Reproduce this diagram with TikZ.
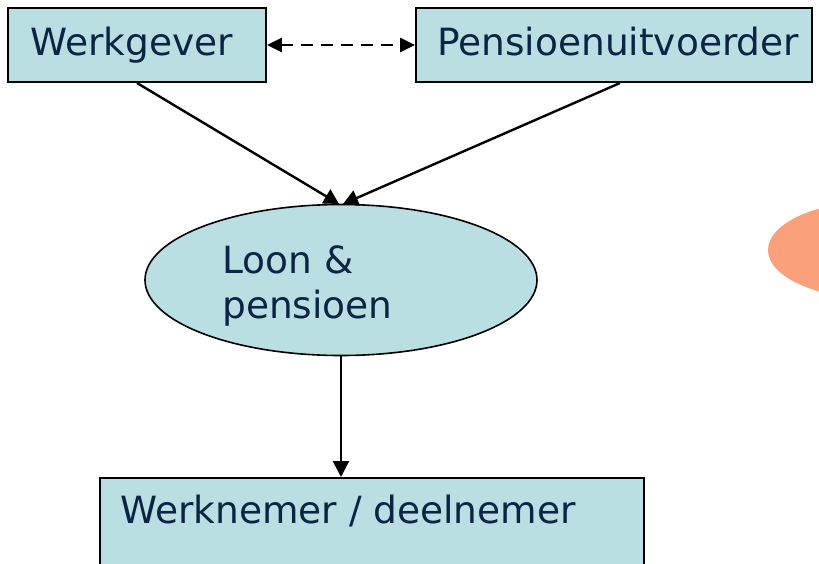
\documentclass[tikz,border=0pt]{standalone}
\usepackage{fontspec}
\setmainfont{DejaVu Sans}
\usetikzlibrary{shapes.geometric,arrows.meta}
\definecolor{boxfill}{RGB}{185,223,226}
\definecolor{txtcol}{RGB}{10,36,70}
\definecolor{blob}{RGB}{250,160,122}
\tikzset{
  box/.style={draw=black, line width=1.8pt, fill=boxfill, rectangle, inner sep=0pt},
  oval/.style={draw=black, line width=1.6pt, fill=boxfill, ellipse, inner sep=0pt},
  lbl/.style={text=txtcol, font=\fontsize{37.5}{45}\selectfont, inner sep=0pt},
  conn/.style={draw=black, line width=2.4pt, -{Triangle[length=16pt,width=16pt]}},
  dconn/.style={draw=black, line width=2.4pt, dash pattern=on 12pt off 8pt, {Triangle[length=15pt,width=14pt]}-{Triangle[length=15pt,width=14pt]}}
}
\begin{document}
\begin{tikzpicture}[x=1pt,y=-1pt]
\useasboundingbox (0,0) rectangle (819,563);
\clip (0,0) rectangle (819,563);
\fill[white] (0,0) rectangle (819,563);
% orange blob at right edge
\fill[blob] (878,250) ellipse [x radius=110, y radius=49];
% boxes
\node[box, minimum width=258pt, minimum height=74pt] (wg) at (137,45) {};
\node[lbl, anchor=base west] (wgt) at (30,55) {Werkgever};
\node[box, minimum width=396pt, minimum height=74pt] (pu) at (614,45) {};
\node[lbl, anchor=base west] (put) at (437,55) {Pensioenuitvoerder};
\node[oval, minimum width=392pt, minimum height=151pt] (lp) at (341,280) {};
\node[lbl, anchor=base west] (lpt1) at (222,273) {Loon \&};
\node[lbl, anchor=base west] (lpt2) at (222,318) {pensioen};
\node[box, minimum width=544pt, minimum height=140pt, anchor=north west] (wn) at (99,477) {};
\node[lbl, anchor=base west] (wnt) at (120,523) {Werknemer / deelnemer};
% connectors
\coordinate (wgb) at (137,83);
\coordinate (pub) at (620,83);
\coordinate (lpl) at (339,204);
\coordinate (lpr) at (343,204);
\draw[conn, -{Triangle[length=15pt,width=16pt]}] (wgb) -- (lpl);
\draw[conn, -{Triangle[length=15pt,width=16pt]}] (pub) -- (lpr);
\draw[conn] (lp.south) -- (wn.north -| lp.south);
\draw[dconn] (wg.east) -- (pu.west);
\end{tikzpicture}
\end{document}
